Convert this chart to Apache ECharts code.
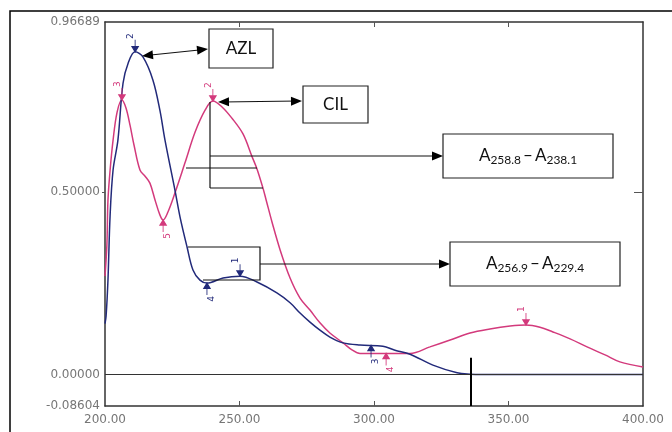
<!DOCTYPE html>
<html><head><meta charset="utf-8">
<script src="https://cdn.jsdelivr.net/npm/echarts@6/dist/echarts.min.js"></script>
<style>html,body{margin:0;padding:0;background:#fff}#c{width:672px;height:432px}</style>
</head><body><div id="c"></div>
<script>
// ---- data (wavelength nm, absorbance) ----
const azlNm  = [200, 200.4, 201.1, 201.9, 203.0, 204.8, 206.7, 208.6, 211.2, 214.1, 217.8, 220.4, 222.3, 226.0, 227.9, 230.5, 232.7, 235.3, 237.9, 243.9, 250.2, 256.5, 263.9, 268.8, 272.5, 276.2, 279.9, 283.6, 288.5, 294.8, 303.3, 307.8, 313.4, 321.9, 330.9, 335.7, 340, 350, 360, 370, 380, 390, 400];
const azlAbs = [0.14, 0.16, 0.259, 0.437, 0.561, 0.643, 0.799, 0.854, 0.885, 0.871, 0.808, 0.725, 0.643, 0.506, 0.432, 0.350, 0.287, 0.259, 0.251, 0.265, 0.270, 0.254, 0.224, 0.197, 0.169, 0.144, 0.122, 0.103, 0.087, 0.081, 0.078, 0.067, 0.056, 0.026, 0.005, 0.001, 0, 0, 0, 0, 0, 0, 0];
const cilNm  = [200, 200.7, 201.1, 201.9, 203.0, 204.5, 206.3, 207.8, 209.3, 210.8, 213.0, 214.9, 216.7, 218.6, 220.4, 221.6, 223.4, 226.0, 229.7, 233.5, 237.2, 240.1, 243.5, 247.2, 251.3, 254.6, 256.5, 258.7, 259.9, 262.1, 265.1, 268.8, 272.5, 276.2, 279.9, 283.6, 288.5, 291.8, 294.8, 300, 305, 309.7, 313.4, 320.8, 328.3, 335.7, 343.1, 350.6, 356.5, 361.7, 366.5, 372.9, 379.2, 385.9, 391.4, 400];
const cilAbs = [0.27, 0.355, 0.478, 0.561, 0.643, 0.720, 0.753, 0.731, 0.684, 0.629, 0.561, 0.544, 0.525, 0.479, 0.438, 0.424, 0.446, 0.498, 0.580, 0.665, 0.725, 0.750, 0.734, 0.703, 0.660, 0.599, 0.564, 0.512, 0.479, 0.418, 0.342, 0.265, 0.210, 0.177, 0.142, 0.114, 0.087, 0.068, 0.058, 0.058, 0.058, 0.058, 0.058, 0.076, 0.095, 0.114, 0.125, 0.133, 0.136, 0.130, 0.117, 0.098, 0.076, 0.054, 0.035, 0.021];
const xTickValues = [200, 250, 300, 350, 400];
const xInnerTicks = [250, 300, 350];
const yTickValues = [-0.08604, 0, 0.5, 0.96689];
// peak-pick markers: [nm, abs, label, side]
const azlMarks = [[211.2, 0.885, '2', 'top'], [237.9, 0.251, '4', 'bottom'], [250.2, 0.270, '1', 'top'], [298.9, 0.080, '3', 'bottom']];
const cilMarks = [[206.3, 0.753, '3', 'top'], [240.1, 0.750, '2', 'top'], [221.6, 0.424, '5', 'bottom'], [304.5, 0.058, '4', 'bottom'], [356.5, 0.136, '1', 'top']];
const cutoffNm = 336, cutoffTop = 0.046;

const BLUE = '#222a7a', PINK = '#d33a7c';
const downArrow = 'path://M3,0 L3,12 M0,7 L3,12 L6,7 Z';
const upArrow = 'path://M3,12 L3,0 M0,5 L3,0 L6,5 Z';

function marks(list, color) {
  return list.map(m => ({
    coord: [m[0], m[1]], name: m[2],
    symbol: m[3] === 'top' ? downArrow : upArrow,
    symbolSize: [6, 12],
    symbolOffset: [0, m[3] === 'top' ? -6 : 6],
    itemStyle: { color: color, borderColor: color, borderWidth: 1.2 },
    label: { show: true, formatter: m[2], position: m[3], distance: 3, rotate: 90, color: color, fontSize: 9, fontFamily: 'DejaVu Sans' }
  }));
}

const chart = echarts.init(document.getElementById('c'));
const axisCol = '#333';
const labelStyle = { color: '#767676', fontSize: 12, fontFamily: 'DejaVu Sans' };

function arrowHead(tx, ty, fx, fy) {
  const a = Math.atan2(ty - fy, tx - fx), L = 11, W = 4.5;
  const bx = tx - L * Math.cos(a), by = ty - L * Math.sin(a);
  return { type: 'polygon', silent: true, z: 10,
    shape: { points: [[tx, ty], [bx + W * Math.sin(a), by - W * Math.cos(a)], [bx - W * Math.sin(a), by + W * Math.cos(a)]] },
    style: { fill: '#000' } };
}
function line(pts) {
  return { type: 'polyline', silent: true, z: 10, shape: { points: pts }, style: { stroke: '#111', lineWidth: 1.2, fill: null } };
}
function box(x, y, w, h) {
  return { type: 'rect', silent: true, z: 10, shape: { x: x, y: y, width: w, height: h }, style: { fill: '#fff', stroke: '#222', lineWidth: 1.2 } };
}
function txt(cx, cy, text, rich) {
  return { type: 'text', silent: true, z: 11, x: cx, y: cy,
    style: { text: text, rich: rich, font: '17px Lato', fill: '#111', align: 'center', verticalAlign: 'middle' } };
}
const subRich = {
  a: { fontSize: 17, fontFamily: 'Lato', color: '#111' },
  s: { fontSize: 12, fontFamily: 'Lato', color: '#111', padding: [9, 0, 0, 0] },
  d: { fontSize: 17, fontFamily: 'Lato', color: '#111', padding: [0, 2, 0, 2] }
};

const graphics = [
  { type: 'rect', silent: true, z: 0, shape: { x: 10, y: 11, width: 720, height: 500 }, style: { fill: 'none', stroke: '#000', lineWidth: 1.5 } },
  // AZL
  box(209, 29, 64, 39), txt(241, 49, 'AZL'),
  line([[146, 55.5], [204, 49.5]]), arrowHead(142, 56, 208, 49), arrowHead(208, 49, 142, 56),
  // CIL
  box(303, 86, 65, 37), txt(335.5, 104.5, 'CIL'),
  line([[222, 102], [298, 101]]), arrowHead(218, 102, 302, 101), arrowHead(302, 101, 218, 102),
  // A258.8 - A238.1
  line([[210, 102], [210, 188]]), line([[186, 168], [257, 168]]), line([[210, 188], [263, 188]]),
  line([[210, 156], [438, 156]]), arrowHead(443, 156, 210, 156),
  box(443, 134, 170, 44), txt(528, 156, '{a|A}{s|258.8}{d|–}{a|A}{s|238.1}', subRich),
  // A256.9 - A229.4
  line([[188, 247], [260, 247], [260, 280], [203, 280]]),
  line([[260, 264], [445, 264]]), arrowHead(450, 264, 260, 264),
  box(450, 242, 170, 44), txt(535, 264, '{a|A}{s|256.9}{d|–}{a|A}{s|229.4}', subRich)
];

chart.setOption({
  animation: false,
  backgroundColor: '#fff',
  grid: { left: 105, right: 29, top: 22, bottom: 26, containLabel: false, outerBoundsMode: 'none' },
  xAxis: [{
    type: 'value', min: 200, max: 400, interval: 50, position: 'bottom',
    name: 'nm', nameLocation: 'middle', nameGap: 27, nameTextStyle: { color: '#777', fontSize: 12, fontFamily: 'DejaVu Sans' },
    axisLine: { show: true, onZero: false, lineStyle: { color: axisCol, width: 1.5 } },
    axisTick: { show: true, inside: true, length: 5, customValues: xInnerTicks, lineStyle: { color: '#555' } },
    axisLabel: Object.assign({ margin: 8, customValues: xTickValues, formatter: v => v.toFixed(2) }, labelStyle),
    splitLine: { show: false }
  }, {
    type: 'value', min: 200, max: 400, position: 'top',
    axisLine: { show: true, onZero: false, lineStyle: { color: axisCol, width: 1.5 } },
    axisTick: { show: true, inside: true, length: 5, customValues: xInnerTicks, lineStyle: { color: '#555' } },
    axisLabel: { show: false }, splitLine: { show: false }
  }],
  yAxis: [{
    type: 'value', min: -0.08604, max: 0.96689, position: 'left',
    axisLine: { show: true, onZero: false, lineStyle: { color: axisCol, width: 1.5 } },
    axisTick: { show: true, length: 3, customValues: [0.5], lineStyle: { color: '#555' } },
    axisLabel: Object.assign({ margin: 5, customValues: yTickValues, formatter: v => v.toFixed(5) }, labelStyle),
    splitLine: { show: false }
  }, {
    type: 'value', min: -0.08604, max: 0.96689, position: 'right',
    axisLine: { show: true, onZero: false, lineStyle: { color: axisCol, width: 1.5 } },
    axisTick: { show: true, inside: true, length: 9, customValues: [0.5], lineStyle: { color: '#555' } },
    axisLabel: { show: false }, splitLine: { show: false }
  }],
  series: [{
    name: 'CIL', type: 'line', data: cilNm.map((x, i) => [x, cilAbs[i]]),
    showSymbol: false, smooth: 0.35,
    lineStyle: { color: PINK, width: 1.5 }, itemStyle: { color: PINK }, z: 3,
    markPoint: { silent: true, data: marks(cilMarks, PINK) }
  }, {
    name: 'AZL', type: 'line', data: azlNm.map((x, i) => [x, azlAbs[i]]),
    showSymbol: false, smooth: 0.35,
    lineStyle: { color: BLUE, width: 1.5 }, itemStyle: { color: BLUE }, z: 4,
    markPoint: { silent: true, data: marks(azlMarks, BLUE) },
    markLine: {
      silent: true, symbol: 'none', animation: false, label: { show: false },
      data: [
        [{ coord: [200, 0], lineStyle: { color: '#333', width: 1, type: 'solid' } }, { coord: [400, 0] }],
        [{ coord: [cutoffNm, cutoffTop], lineStyle: { color: '#000', width: 2, type: 'solid' } }, { coord: [cutoffNm, -0.08604] }]
      ]
    }
  }],
  graphic: { elements: graphics }
});
</script></body></html>
